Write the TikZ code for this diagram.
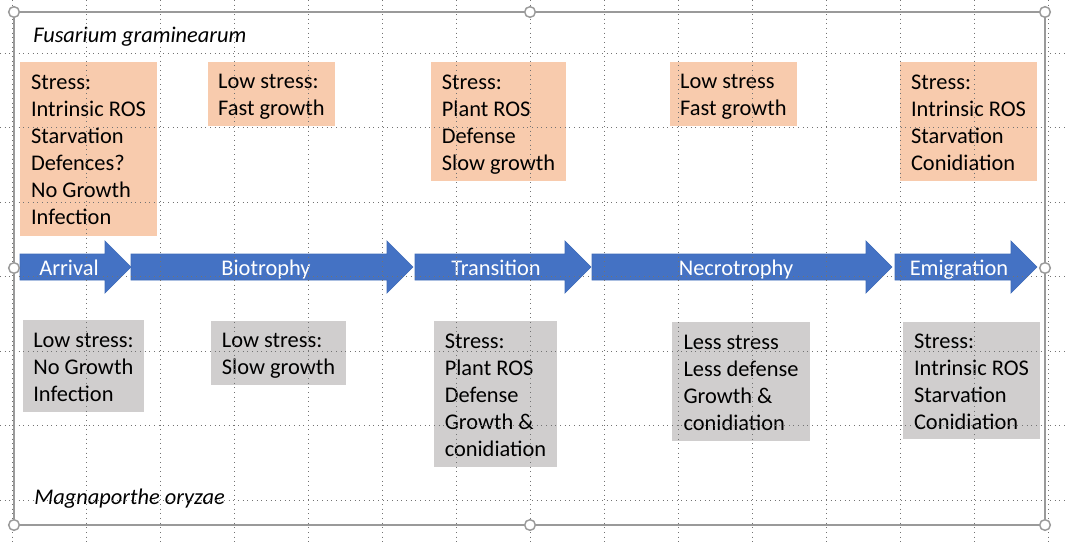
\documentclass[tikz,border=0pt]{standalone}
\usepackage{fontspec}
\setmainfont{Carlito}
\usepackage{tikz}
\usetikzlibrary{positioning}

\definecolor{fgorange}{HTML}{F8CBAD}
\definecolor{mogray}{HTML}{D0CECE}
\definecolor{stageblue}{HTML}{4472C4}
\definecolor{stageline}{HTML}{3F6BB8}
\definecolor{selgray}{HTML}{9A9A9A}

% one blue stage arrow: start x, tip x
\newcommand{\stagearrow}[2]{%
  \filldraw[stage] (#1,254) -- (#2-26,254) -- (#2-26,241) -- (#2,267)
    -- (#2-26,293) -- (#2-26,280) -- (#1,280) -- cycle;}
% stacked lines of a box
\newcommand{\boxlines}[1]{\begin{tabular}{@{}l@{}}\rule{0pt}{18.7pt}#1\end{tabular}}

\begin{document}
\begin{tikzpicture}[x=0.75pt,y=-0.75pt,font=\fontsize{16.8}{20.25}\selectfont]
\tikzset{fgbox/.style 2 args={rectangle,fill=fgorange,inner sep=0pt,minimum width=#1,minimum height=#2}}
\tikzset{mobox/.style 2 args={rectangle,fill=mogray,inner sep=0pt,minimum width=#1,minimum height=#2}}
\tikzset{stage/.style={fill=stageblue,draw=stageline,line width=0.5pt}}
\tikzset{stagelabel/.style={text=white,inner sep=0pt,anchor=base}}
\tikzset{species/.style={font=\fontsize{16.8}{20.25}\selectfont\itshape,anchor=base west,inner sep=0pt}}
\tikzset{gridline/.style={draw=black!55,line width=0.6pt,dash pattern=on 0.7pt off 2.8pt}}
\tikzset{frame/.style={draw=selgray,line width=1.1pt}}
\tikzset{handle/.style={draw=selgray,fill=white,line width=1.1pt}}
\useasboundingbox (0,0) rectangle (1066,544);

% Fusarium boxes
\node[fgbox={102.75pt}{130.5pt}] (fg1) at (88.5,149) {\boxlines{Stress:\\Intrinsic ROS\\Starvation\\Defences?\\No Growth\\Infection}};
\node[fgbox={95.25pt}{48pt}] (fg2) at (271.5,94) {\boxlines{Low stress:\\Fast growth}};
\node[fgbox={101.25pt}{89.25pt}] (fg3) at (498.5,121.5) {\boxlines{Stress:\\Plant ROS\\Defense\\Slow growth}};
\node[fgbox={95.25pt}{48pt}] (fg4) at (733.5,94) {\boxlines{Low stress\\Fast growth}};
\node[fgbox={102.75pt}{89.25pt}] (fg5) at (968.5,121.5) {\boxlines{Stress:\\Intrinsic ROS\\Starvation\\Conidiation}};

% Magnaporthe boxes
\node[mobox={90.75pt}{69pt}] (mo1) at (83.5,366) {\boxlines{Low stress:\\No Growth\\Infection}};
\node[mobox={101.25pt}{48pt}] (mo2) at (278.5,353) {\boxlines{Low stress:\\Slow growth}};
\node[mobox={92.25pt}{109.5pt}] (mo3) at (495.5,394) {\boxlines{Stress:\\Plant ROS\\Defense\\Growth \&\\conidiation}};
\node[mobox={103.5pt}{89.25pt}] (mo4) at (741,381.5) {\boxlines{Less stress\\Less defense\\Growth \&\\conidiation}};
\node[mobox={102.75pt}{87.75pt}] (mo5) at (971.5,380.5) {\boxlines{Stress:\\Intrinsic ROS\\Starvation\\Conidiation}};

% stages
\stagearrow{20}{131}
\stagearrow{131}{413}
\stagearrow{415}{591}
\stagearrow{592}{892}
\stagearrow{895}{1037}
\node[stagelabel] (arrival) at (69,275) {Arrival};
\node[stagelabel] (biotrophy) at (266,275) {Biotrophy};
\node[stagelabel] (transition) at (496,275) {Transition};
\node[stagelabel] (necrotrophy) at (736,275) {Necrotrophy};
\node[stagelabel] (emigration) at (959,275) {Emigration};

\node[species] (fusarium) at (33,42) {Fusarium graminearum};
\node[species] (magna) at (34,504) {Magnaporthe oryzae};

% gridlines and selection frame
\foreach \gx in {12.5,86.5,...,1050}
  \draw[gridline] (\gx,0) -- (\gx,544);
\foreach \gy in {53,127.5,...,501}
  \draw[gridline] (0,\gy) -- (1066,\gy);
\draw[frame] (14,12) rectangle (1045,525);
\foreach \hx/\hy in {14/12,530/12,1045/12,14/268,1045/268,14/525,530/525,1045/525}
  \draw[handle] (\hx,\hy) circle[radius=4pt];
\end{tikzpicture}
\end{document}
